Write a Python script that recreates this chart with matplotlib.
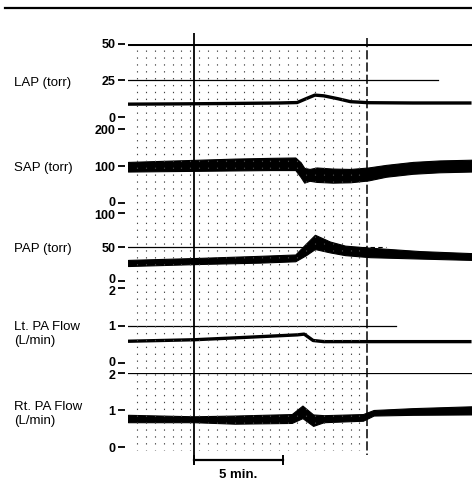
import numpy as np
import matplotlib.pyplot as plt
from matplotlib.lines import Line2D
from matplotlib.transforms import ScaledTranslation

plt.rcParams['font.family'] = ['Liberation Sans', 'DejaVu Sans']

W, H = 472, 494
X0, X1 = 128, 472          # strip chart left / right edge (px)
PX_PER_MIN = 89 / 5.0      # 5 min scale bar is 89 px long
T_END = (X1 - X0) / PX_PER_MIN

# --- recorded traces (time in minutes from left edge of the strip) ---
lap_t = [0, 3, 6, 8.5, 9.5, 10.0, 10.5, 11.0, 11.8, 12.5, 13.5, 16, 19.3]
lap_v = [8.8, 9.0, 9.3, 9.6, 9.9, 12.5, 15, 14.5, 12.5, 10.5, 9.8, 9.6, 9.6]

sap_t = [0, 2, 4, 6, 8, 9.4, 9.7, 9.9, 10.2, 10.6, 11.5, 12.5, 13.5, 14.5, 16, 17.5, 19.3]
sap_sys = [111, 114, 117, 120, 122, 123, 110, 95, 92, 96, 93, 92, 96, 103, 111, 115, 117]
sap_dia = [85, 86, 87, 88, 89, 89, 70, 55, 60, 57, 55, 56, 61, 71, 79, 83, 85]

pap_t = [0, 4, 7.4, 9.4, 10.0, 10.5, 11.35, 12.2, 13.6, 16.4, 19.3]
pap_sys = [31, 34, 37, 39, 55, 68, 58, 52, 49, 44, 41]
pap_dia = [22, 25, 27, 29, 38, 47, 42, 38, 35, 33, 31]

lt_t = [0, 3.7, 6, 9.5, 9.9, 10.4, 11, 19.3]
lt_v = [0.58, 0.62, 0.67, 0.75, 0.77, 0.6, 0.57, 0.57]

rt_t = [0, 3.7, 6, 9.2, 9.8, 10.4, 11, 13.2, 13.8, 16, 19.3]
rt_hi = [0.87, 0.83, 0.85, 0.89, 1.12, 0.88, 0.86, 0.89, 1.0, 1.05, 1.1]
rt_lo = [0.67, 0.67, 0.63, 0.65, 0.78, 0.57, 0.67, 0.71, 0.85, 0.87, 0.88]

# tick values per channel
lap_ticks = [0, 25, 50]
sap_ticks = [0, 100, 200]
pap_ticks = [0, 50, 100]
lt_ticks = [0, 1, 2]
rt_ticks = [0, 1, 2]

fig = plt.figure(figsize=(W / 100, H / 100), dpi=100)


def channel_axes(v_lo, y_lo, v_hi, y_hi, ticks, lo_shift=0.0, hi_shift=0.0):
    """Axes whose value v_lo sits on pixel row y_lo and v_hi on row y_hi."""
    ax = fig.add_axes([X0 / W, 1 - y_lo / H, (X1 - X0) / W, (y_lo - y_hi) / H])
    ax.set_xlim(0, T_END)
    ax.set_ylim(v_lo, v_hi)
    ax.patch.set_alpha(0)
    for s in ax.spines.values():
        s.set_visible(False)
    ax.spines['left'].set_position(('outward', 2.5))
    ax.set_xticks([])
    ax.set_yticks(ticks)
    ax.set_yticklabels([str(v) for v in ticks], fontsize=9, fontweight='bold')
    ax.tick_params(axis='y', direction='out', length=5, width=1.3, pad=1.5)
    # nudge the crowded end labels apart a little (pixels, + = up)
    labs = ax.get_yticklabels()
    for lab, dy in ((labs[0], lo_shift), (labs[-1], hi_shift)):
        if dy:
            lab.set_transform(lab.get_transform()
                              + ScaledTranslation(0, dy / 100, fig.dpi_scale_trans))
    return ax


ax_lap = channel_axes(0, 117, 50, 44, lap_ticks)
ax_sap = channel_axes(0, 203, 200, 129, sap_ticks, lo_shift=1.5)
ax_pap = channel_axes(0, 281, 100, 213, pap_ticks, lo_shift=2.5, hi_shift=-1.5)
ax_lt = channel_axes(0, 363, 2, 288, lt_ticks, lo_shift=1.5, hi_shift=-2.5)
ax_rt = channel_axes(0, 447, 2, 373, rt_ticks, hi_shift=-1.5)

# chart paper lines
ax_lap.axhline(50, color='black', lw=2.2)
ax_lap.axhline(25, xmax=0.9, color='black', lw=0.9)
ax_pap.axhline(50, xmax=0.5, color='black', lw=0.9)
ax_pap.axhline(50, xmin=0.5, xmax=0.75, color='black', lw=0.8, ls=(0, (4, 3)))
ax_lt.axhline(1, xmax=0.78, color='black', lw=0.9)
ax_rt.axhline(2, color='black', lw=0.9)

# traces
ax_lap.plot(lap_t, lap_v, color='black', lw=2.4, solid_capstyle='butt')
ax_sap.fill_between(sap_t, sap_dia, sap_sys, color='black', lw=0.8)
ax_pap.fill_between(pap_t, pap_dia, pap_sys, color='black', lw=0.8)
ax_lt.plot(lt_t, lt_v, color='black', lw=2.4, solid_capstyle='butt')
ax_rt.fill_between(rt_t, rt_lo, rt_hi, color='black', lw=0.8)

# overlay in pixel rows for the paper grid, event lines and scale bar
ov = fig.add_axes([X0 / W, 0, (X1 - X0) / W, 1])
ov.set_xlim(0, T_END)
ov.set_ylim(H, 0)
ov.axis('off')
ov.patch.set_alpha(0)

grid_t = np.arange(0.5, 13.4, 0.5)
ov.vlines(grid_t, 50, 450, color='#444444', lw=0.8, ls=(0, (1.2, 5)))
ov.vlines(3.7, 33, 463, color='black', lw=1.3)
ov.vlines(13.4, 38, 455, color='black', lw=1.1, ls=(0, (6, 2)))

# 5 min scale bar
ov.plot([3.7, 8.7], [460, 460], color='black', lw=1.6)
ov.vlines([3.7, 8.7], 455, 465, color='black', lw=1.4)
ov.text(6.2, 475, '5 min.', ha='center', va='center', fontsize=9.5, fontweight='bold')

# top rule
fig.add_artist(Line2D([5 / W, 1], [1 - 8 / H, 1 - 8 / H], color='black', lw=1.6))

# channel labels
labels = [('LAP (torr)', 83), ('SAP (torr)', 168), ('PAP (torr)', 249),
          ('Lt. PA Flow\n(L/min)', 334), ('Rt. PA Flow\n(L/min)', 414)]
for txt, y in labels:
    fig.text(14 / W, 1 - y / H, txt, ha='left', va='center', fontsize=9.5,
             linespacing=1.15)

fig.savefig('out.png', dpi=100)
